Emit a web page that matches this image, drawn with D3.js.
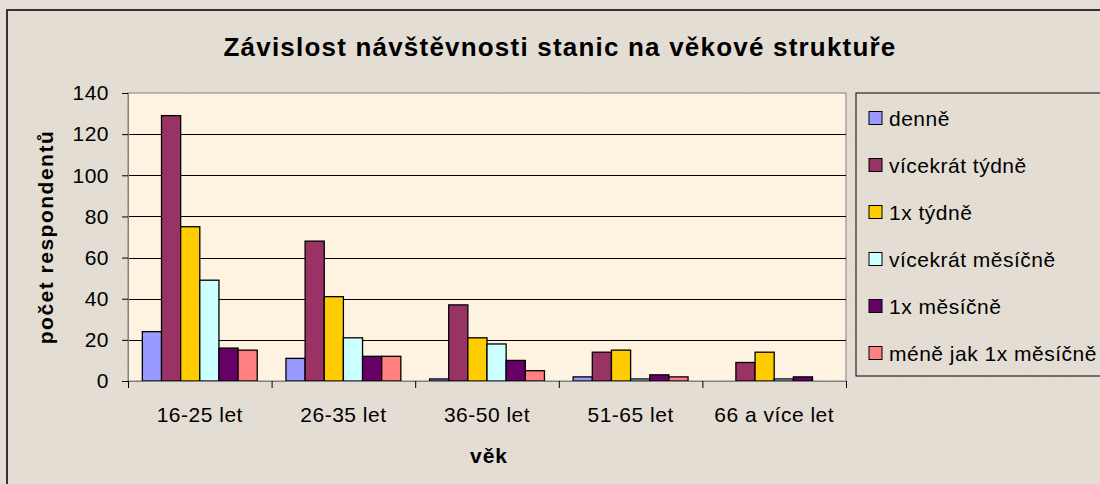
<!DOCTYPE html>
<html>
<head>
<meta charset="utf-8">
<script src="https://cdn.jsdelivr.net/npm/d3@7/dist/d3.min.js"></script>
<style>
  body { margin: 0; background: #e4ded4; }
  svg text { font-family: "Liberation Sans", Arial, sans-serif; fill: #000; }
</style>
</head>
<body>
<div id="chart"></div>
<script>
// Data
var categories = ["16-25 let", "26-35 let", "36-50 let", "51-65 let", "66 a více let"];
var seriesNames = ["denně", "vícekrát týdně", "1x týdně", "vícekrát měsíčně", "1x měsíčně", "méně jak 1x měsíčně"];
var denne = [24, 11, 1, 2, 0];
var vicekratTydne = [129, 68, 37, 14, 9];
var jednouTydne = [75, 41, 21, 15, 14];
var vicekratMesicne = [49, 21, 18, 1, 1];
var jednouMesicne = [16, 12, 10, 3, 2];
var meneNez = [15, 12, 5, 2, 0];
var yTicks = [0, 20, 40, 60, 80, 100, 120, 140];

var seriesValues = [denne, vicekratTydne, jednouTydne, vicekratMesicne, jednouMesicne, meneNez];
var colors = ["#9999ff", "#993366", "#ffcc00", "#ccffff", "#660066", "#ff8080"];

// Dimensions
var width = 1100;
var height = 484;
var plotLeft = 128, plotRight = 846, plotTop = 93, plotBottom = 381;

var svg = d3.select("#chart").append("svg")
  .attr("width", width)
  .attr("height", height);

// paper-ish grain
var defs = svg.append("defs");
var grain = defs.append("filter").attr("id", "grain").attr("x", 0).attr("y", 0).attr("width", "100%").attr("height", "100%");
grain.append("feTurbulence").attr("type", "fractalNoise").attr("baseFrequency", 0.9).attr("numOctaves", 2).attr("seed", 3);
grain.append("feColorMatrix").attr("type", "matrix")
  .attr("values", "0 0 0 0 0.45  0 0 0 0 0.42  0 0 0 0 0.38  0 0 0 -1.6 0.9");

// outer chart area + frame
svg.append("rect")
  .attr("x", 7).attr("y", 10)
  .attr("width", 1110).attr("height", 500)
  .attr("fill", "#e4ded4")
  .attr("stroke", "#333")
  .attr("stroke-width", 2);
svg.append("rect")
  .attr("x", 8).attr("y", 11)
  .attr("width", 1100).attr("height", 480)
  .attr("filter", "url(#grain)")
  .attr("opacity", 0.18);

// plot area
svg.append("rect")
  .attr("x", plotLeft).attr("y", plotTop)
  .attr("width", plotRight - plotLeft).attr("height", plotBottom - plotTop)
  .attr("fill", "#fdf3e0")
  .attr("stroke", "#808080")
  .attr("stroke-width", 1);

// Scales
var x0 = d3.scaleBand().domain(categories).range([plotLeft, plotRight]).padding(0);
var x1 = d3.scaleBand().domain(seriesNames).range([0, x0.bandwidth()]).paddingInner(0).paddingOuter(0.75);
var y = d3.scaleLinear().domain([0, 140]).range([plotBottom, plotTop]);
var xEdge = d3.scaleLinear().domain([0, categories.length]).range([plotLeft, plotRight]);

// gridlines
svg.append("g").selectAll("line")
  .data(yTicks.filter(function(d) { return d > 0 && d < 140; }))
  .enter().append("line")
  .attr("x1", plotLeft).attr("x2", plotRight)
  .attr("y1", function(d) { return Math.round(y(d)) + 0.5; })
  .attr("y2", function(d) { return Math.round(y(d)) + 0.5; })
  .attr("stroke", "#000")
  .attr("stroke-width", 1);

// bars
var groups = svg.append("g").selectAll("g")
  .data(categories)
  .enter().append("g")
  .attr("transform", function(d) { return "translate(" + x0(d) + ",0)"; });

groups.selectAll("rect")
  .data(function(c, ci) {
    return seriesNames.map(function(s, si) { return { s: s, v: seriesValues[si][ci], color: colors[si] }; });
  })
  .enter().append("rect")
  .filter(function(d) { return d.v > 0; })
  .attr("x", function(d) { return x1(d.s); })
  .attr("y", function(d) { return y(d.v); })
  .attr("width", x1.bandwidth())
  .attr("height", function(d) { return y(0) - y(d.v); })
  .attr("fill", function(d) { return d.color; })
  .attr("stroke", "#000")
  .attr("stroke-width", 1.3);

// y axis
var yAxis = d3.axisLeft(y).tickValues(yTicks).tickSize(6).tickPadding(13);
var yAxisG = svg.append("g").attr("transform", "translate(" + plotLeft + ",0)").call(yAxis);
yAxisG.select(".domain").attr("stroke", "#808080");
yAxisG.selectAll(".tick line").attr("stroke", "#000");
yAxisG.selectAll("text")
  .style("font-size", "21px")
  .style("letter-spacing", "0.5px")
  .attr("fill", "#000");

// x axis: ticks on category boundaries
var xTickAxis = d3.axisBottom(xEdge).tickValues(d3.range(categories.length + 1)).tickFormat("").tickSize(7);
var xTickG = svg.append("g").attr("transform", "translate(0," + plotBottom + ")").call(xTickAxis);
xTickG.select(".domain").attr("stroke", "#808080");
xTickG.selectAll(".tick line").attr("stroke", "#000");

var xLabelAxis = d3.axisBottom(x0).tickSize(0).tickPadding(26);
var xLabelG = svg.append("g").attr("transform", "translate(0," + plotBottom + ")").call(xLabelAxis);
xLabelG.select(".domain").remove();
xLabelG.selectAll("text")
  .style("font-size", "21px")
  .style("letter-spacing", "0.5px")
  .attr("fill", "#000");

// title
svg.append("text")
  .attr("x", 560).attr("y", 56)
  .attr("text-anchor", "middle")
  .style("font-size", "26px")
  .style("font-weight", "bold")
  .style("letter-spacing", "1.2px")
  .text("Závislost návštěvnosti stanic na věkové struktuře");

// axis titles
svg.append("text")
  .attr("x", 489).attr("y", 463)
  .attr("text-anchor", "middle")
  .style("font-size", "21px")
  .style("font-weight", "bold")
  .style("letter-spacing", "1px")
  .text("věk");

svg.append("text")
  .attr("transform", "translate(53," + ((plotTop + plotBottom) / 2) + ") rotate(-90)")
  .attr("text-anchor", "middle")
  .style("font-size", "21px")
  .style("font-weight", "bold")
  .style("letter-spacing", "1.5px")
  .text("počet respondentů");

// legend
var legend = svg.append("g").attr("transform", "translate(856,93)");
legend.append("rect")
  .attr("x", 0).attr("y", 0)
  .attr("width", 260).attr("height", 283)
  .attr("fill", "none")
  .attr("stroke", "#000")
  .attr("stroke-width", 1);

var legendItems = legend.selectAll(".item")
  .data(seriesNames)
  .enter().append("g")
  .attr("class", "item")
  .attr("transform", function(d, i) { return "translate(13," + (25 + i * 47) + ")"; });

legendItems.append("rect")
  .attr("x", 0).attr("y", -6.5)
  .attr("width", 13).attr("height", 13)
  .attr("fill", function(d, i) { return colors[i]; })
  .attr("stroke", "#000")
  .attr("stroke-width", 1);

legendItems.append("text")
  .attr("x", 20).attr("y", 7.5)
  .style("font-size", "21px")
  .style("letter-spacing", "0.5px")
  .text(function(d) { return d; });
</script>
</body>
</html>
